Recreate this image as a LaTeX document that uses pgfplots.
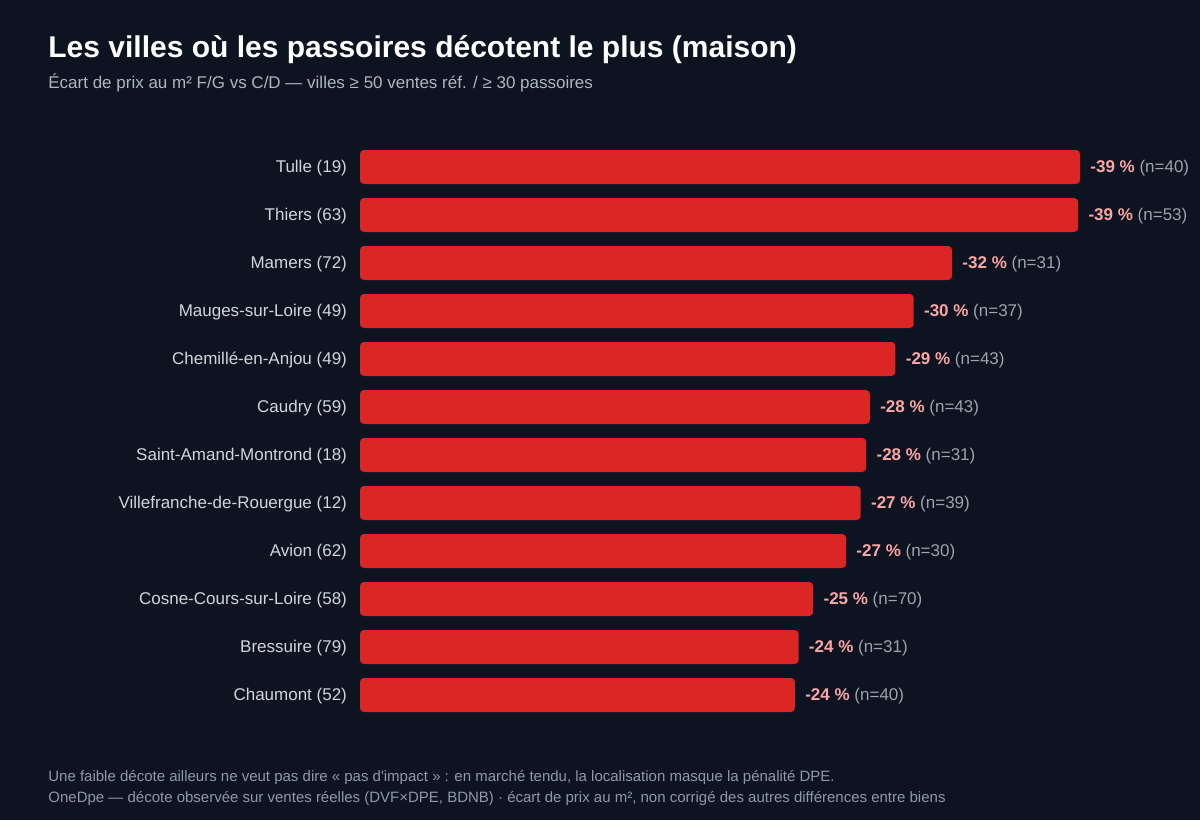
\documentclass[border=0pt]{standalone}
\usepackage{pgfplots}
\pgfplotsset{compat=1.18}
\usepackage{pgfplotstable}
\usepackage{fontspec}
\setmainfont{Liberation Sans}

\definecolor{bg}{HTML}{0D1320}
\definecolor{barc}{HTML}{DC2626}
\definecolor{valc}{HTML}{FCA5A5}
\definecolor{nc}{HTML}{9CA3AF}
\definecolor{tickc}{HTML}{D1D5DB}
\definecolor{subc}{HTML}{AEB6C2}
\definecolor{footc}{HTML}{8F99A8}

% value = decote in % (absolute), lab = rounded label, n = passoires
\pgfplotstableread[col sep=comma]{
idx,value,lab,n
0,39.4,-39,40
1,39.3,-39,53
2,32.4,-32,31
3,30.3,-30,37
4,29.3,-29,43
5,27.9,-28,43
6,27.7,-28,31
7,27.4,-27,39
8,26.6,-27,30
9,24.8,-25,70
10,24.0,-24,31
11,23.8,-24,40
}\villes

\begin{document}
\begin{tikzpicture}
\useasboundingbox (0pt,0pt) rectangle (600pt,-410pt);
\fill[bg] (0pt,0pt) rectangle (600pt,-410pt);

\node[anchor=base west, text=white, font=\bfseries\fontsize{15}{17}\selectfont, inner sep=0pt]
  at (24pt,-28.5pt) {Les villes où les passoires décotent le plus (maison)};
\node[anchor=base west, text=subc, font=\fontsize{8.5}{10}\selectfont, inner sep=0pt]
  at (24pt,-44pt) {Écart de prix au m² F/G vs C/D — villes ≥ 50 ventes réf. / ≥ 30 passoires};

\begin{axis}[
at={(180pt,-71.5pt)}, anchor=north west,
scale only axis,
width=360pt, height=288pt,
xbar, bar width=17pt,
xmin=0, xmax=39.4,
ymin=-0.5, ymax=11.5,
y dir=reverse,
axis line style={draw=none},
xtick=\empty,
ytick={0,...,11},
yticklabels={Tulle (19),Thiers (63),Mamers (72),Mauges-sur-Loire (49),Chemillé-en-Anjou (49),Caudry (59),Saint-Amand-Montrond (18),Villefranche-de-Rouergue (12),Avion (62),Cosne-Cours-sur-Loire (58),Bressuire (79),Chaumont (52)},
major tick length=0pt,
yticklabel style={text=tickc, font=\fontsize{8.5}{10}\selectfont, anchor=east, xshift=-3pt, yshift=-0.6pt},
clip=false,
point meta=explicit symbolic,
visualization depends on={\thisrow{n} \as \nn},
nodes near coords={\textbf{\color{valc}\pgfplotspointmeta~\%}\ {\color{nc}(n=\pgfmathprintnumber[fixed,precision=0,assume math mode=true]{\nn})}},
nodes near coords style={anchor=west, inner sep=0pt, xshift=5pt, yshift=-0.6pt, font=\fontsize{8.5}{10}\selectfont},
]
\addplot[fill=barc, draw=none, rounded corners=2pt] table[x=value, y=idx, meta=lab]{\villes};
\end{axis}

\node[anchor=base west, text=footc, font=\fontsize{7.5}{9}\selectfont, inner sep=0pt]
  at (24pt,-390.6pt) {Une faible décote ailleurs ne veut pas dire « pas d\textquotesingle impact » : en marché tendu, la localisation masque la pénalité DPE.};
\node[anchor=base west, text=footc, font=\fontsize{7.5}{9}\selectfont, inner sep=0pt]
  at (24pt,-401.4pt) {OneDpe — décote observée sur ventes réelles (DVF×DPE, BDNB) · écart de prix au m², non corrigé des autres différences entre biens};
\end{tikzpicture}
\end{document}
